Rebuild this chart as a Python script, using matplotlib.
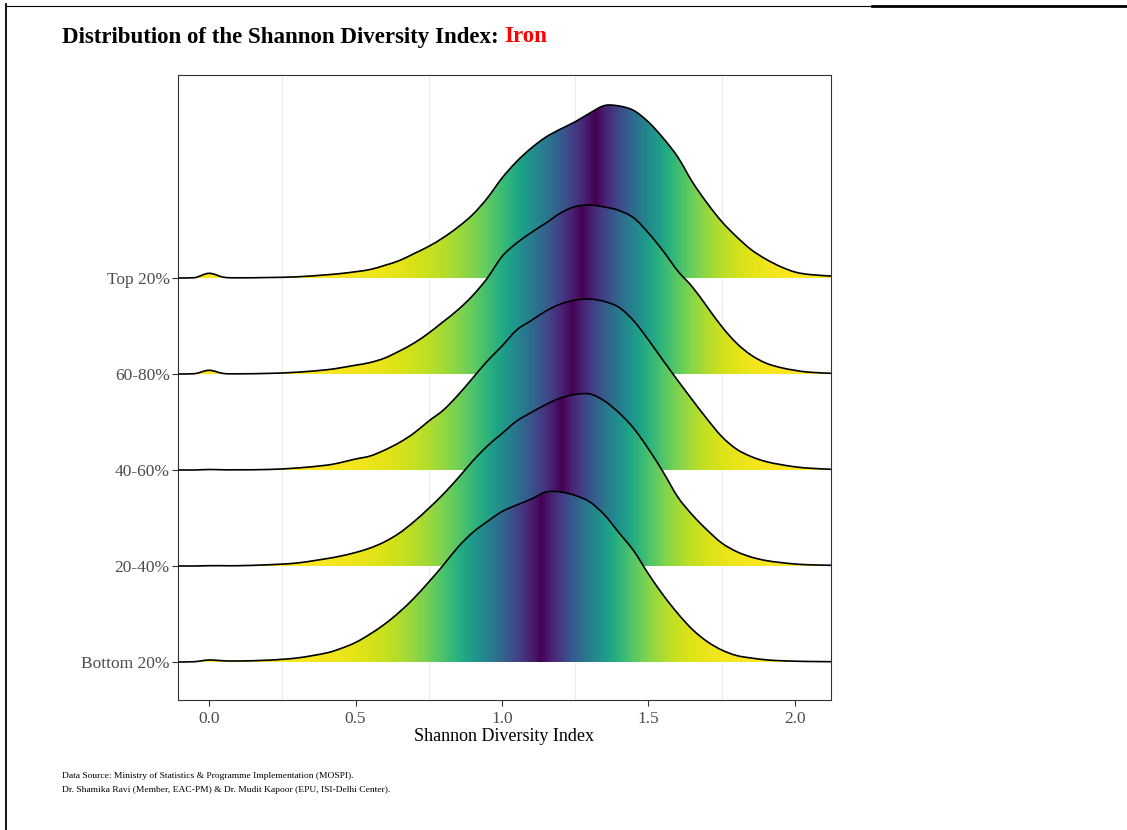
import numpy as np
import matplotlib
matplotlib.use("Agg")
import matplotlib.pyplot as plt
from matplotlib.patches import PathPatch
from matplotlib.path import Path
from matplotlib.lines import Line2D

# ---------------- data ----------------
categories = ["Bottom 20%", "20-40%", "40-60%", "60-80%", "Top 20%"]

x_grid = [-0.106, -0.05, 0.0, 0.05, 0.1, 0.2, 0.3, 0.4, 0.45, 0.5, 0.55, 0.6, 0.65,
          0.7, 0.75, 0.8, 0.85, 0.9, 0.95, 1.0, 1.05, 1.1, 1.15, 1.2, 1.25, 1.3,
          1.35, 1.4, 1.45, 1.5, 1.55, 1.6, 1.65, 1.7, 1.75, 1.8, 1.85, 1.9, 1.95,
          2.0, 2.05, 2.123]

# scaled density heights (ridge height units x 96)
dens_bottom20 = [0, 0.3, 2, 1.2, 1, 1.8, 4, 9, 13.5, 19.5, 28, 38, 50, 64, 80, 97,
                 115, 129.5, 140.5, 150.5, 157, 163, 170, 170, 166.5, 160, 147, 129,
                 111, 88, 67, 48.5, 32.5, 20.5, 12, 6.5, 4, 2.2, 1.3, 0.8, 0.5, 0.3]
dens_20_40 = [0, 0, 0.3, 0.3, 0.3, 1.2, 3, 7.3, 10, 13.5, 18, 24.3, 33, 44.5, 57.7, 72,
              88, 105, 120, 132.5, 145, 153.5, 161.5, 168, 171.5, 172, 165, 153, 137.5,
              117, 94, 69, 51, 36, 23, 14.5, 9, 5.5, 3.5, 2, 1.2, 0.7]
dens_40_60 = [0, 0, 0.5, 0.2, 0.2, 0.5, 2, 4.8, 7.5, 11, 14, 20, 27.5, 37, 49, 60,
              75, 92, 109, 124, 140, 149.5, 159, 166, 170, 171, 168.5, 162.5, 149, 130,
              109.5, 89.5, 70, 51, 33.5, 21, 13.5, 8.5, 5.5, 3.2, 1.8, 0.7]
dens_60_80 = [0, 0.3, 3.7, 0.5, 0.2, 0.6, 1.8, 4.2, 6.3, 8.8, 11.5, 16, 23, 31, 41, 52.5,
              64.3, 78.5, 96, 117.5, 131, 141.5, 151, 161, 167.5, 169, 167, 163.5, 156,
              141, 123, 103, 87, 67.3, 47.5, 31, 19, 11, 6.5, 3.7, 1.8, 0.7]
dens_top20 = [0, 0.3, 4.7, 0.8, 0.2, 0.5, 1.2, 3.2, 4.5, 6.3, 8.5, 12.7, 17.5, 24.5, 31.7,
              40.5, 51, 63.5, 80, 100, 116.5, 130, 141, 149, 156.3, 165, 172.5, 172,
              167.5, 156, 140, 121, 96, 75, 56.5, 41.5, 28.5, 19, 11.5, 6, 3.5, 2]

densities = [dens_bottom20, dens_20_40, dens_40_60, dens_60_80, dens_top20]
height_scale = 1 / 96.0

x_ticks = [0.0, 0.5, 1.0, 1.5, 2.0]
x_ticklabels = ["0.0", "0.5", "1.0", "1.5", "2.0"]

title_main = "Distribution of the Shannon Diversity Index: "
title_hl = "Iron"
x_label = "Shannon Diversity Index"
caption1 = "Data Source: Ministry of Statistics & Programme Implementation (MOSPI)."
caption2 = "Dr. Shamika Ravi (Member, EAC-PM) & Dr. Mudit Kapoor (EPU, ISI-Delhi Center)."


def smooth_path(xs, ys, floor):
    """Bezier path passing through every (x, y) point (Catmull-Rom style)."""
    pts = np.column_stack([xs, ys])
    n = len(pts)
    verts = [pts[0]]
    codes = [Path.MOVETO]
    for i in range(n - 1):
        p0 = pts[max(i - 1, 0)]
        p1 = pts[i]
        p2 = pts[i + 1]
        p3 = pts[min(i + 2, n - 1)]
        c1 = p1 + (p2 - p0) / 6.0
        c2 = p2 - (p3 - p1) / 6.0
        c1[1] = max(c1[1], floor)
        c2[1] = max(c2[1], floor)
        verts += [c1, c2, p2]
        codes += [Path.CURVE4] * 3
    return np.array(verts), codes


# ---------------- figure ----------------
plt.rcParams["font.family"] = ["Liberation Serif", "DejaVu Serif"]
W, H = 1127, 830
fig = plt.figure(figsize=(W / 100, H / 100), dpi=100)
fig.patch.set_facecolor("white")

ax = fig.add_axes([178 / W, 1 - 700 / H, (831 - 178) / W, (700 - 75) / H])
xmin, xmax = -0.106, 2.123
cmap = plt.get_cmap("viridis")
x = np.array(x_grid)

for pos, dens in enumerate(densities):
    h = np.array(dens) * height_scale
    # ecdf of the density curve -> tail probability colouring
    seg = 0.5 * (h[1:] + h[:-1]) * np.diff(x)
    ecdf = np.concatenate([[0], np.cumsum(seg)])
    ecdf /= ecdf[-1]
    xf = np.linspace(xmin, xmax, 1400)
    ef = np.interp(xf, x, ecdf)
    v = 0.5 - np.abs(0.5 - ef)
    img = cmap(1 - v / 0.5)[None, :, :]
    z = 10 - pos

    verts, codes = smooth_path(x, pos + h, pos)
    line_path = Path(verts, codes)
    fverts = np.vstack([verts, [[xmax, pos], [xmin, pos], verts[0]]])
    fcodes = codes + [Path.LINETO, Path.LINETO, Path.CLOSEPOLY]
    fill_patch = PathPatch(Path(fverts, fcodes), facecolor="none", edgecolor="none")
    ax.add_patch(fill_patch)
    im = ax.imshow(img, extent=[xmin, xmax, pos, pos + h.max() + 0.05],
                   aspect="auto", interpolation="bilinear", zorder=z, origin="lower")
    im.set_clip_path(fill_patch)
    ax.add_patch(PathPatch(line_path, facecolor="none", edgecolor="black", lw=1.2,
                           zorder=z + 0.5, capstyle="round", joinstyle="round"))

ax.set_xlim(xmin, xmax)
ax.set_ylim(-0.396, 6.115)
ax.set_xticks(x_ticks)
ax.set_xticklabels(x_ticklabels)
ax.set_xticks([0.25, 0.75, 1.25, 1.75], minor=True)
ax.set_yticks(range(len(categories)))
ax.set_yticklabels(categories)
ax.grid(which="minor", axis="x", color="#ebebeb", lw=0.7)
ax.set_axisbelow(True)
ax.tick_params(which="minor", length=0)
ax.tick_params(which="major", direction="out", length=4, width=0.8, color="#333333",
               labelcolor="#4d4d4d", labelsize=12.5, pad=2)
ax.tick_params(axis="x", which="major", pad=4)
for s in ax.spines.values():
    s.set_color("#333333")
    s.set_linewidth(0.8)
ax.set_xlabel(x_label, fontsize=13, color="black", labelpad=0.5)

# title with highlighted word
t1 = fig.text(62 / W, 1 - 37 / H, title_main, fontsize=16.5, fontweight="bold",
              color="black", va="center", ha="left")
fig.canvas.draw()
bb = t1.get_window_extent(renderer=fig.canvas.get_renderer())
fig.text(bb.x1 / W, 1 - 37 / H, title_hl, fontsize=16.5, fontweight="bold",
         color="#ff0000", va="center", ha="left")

fig.text(62 / W, 1 - 776 / H, caption1, fontsize=6.8, color="black", va="center")
fig.text(62 / W, 1 - 790 / H, caption2, fontsize=6.8, color="black", va="center")

# screenshot frame lines
fig.add_artist(Line2D([6 / W, 6 / W], [0, 1 - 4 / H], color="black", lw=1.3))
fig.add_artist(Line2D([6 / W, 872 / W], [1 - 6 / H, 1 - 6 / H], color="black", lw=0.8))
fig.add_artist(Line2D([872 / W, 1], [1 - 6 / H, 1 - 6 / H], color="black", lw=2.0))

fig.savefig("out.png", dpi=100, facecolor="white")
